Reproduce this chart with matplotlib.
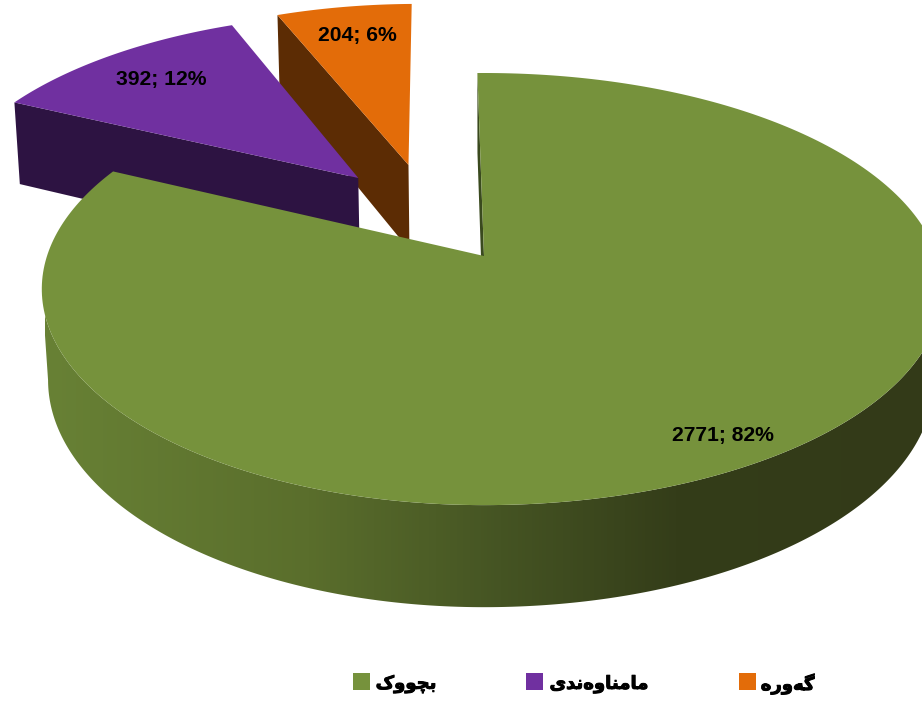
import matplotlib
matplotlib.use("Agg")
import matplotlib.pyplot as plt
import matplotlib.patheffects as pe
import numpy as np
from matplotlib.colors import LinearSegmentedColormap
from matplotlib.patches import Polygon, Rectangle

# Data
categories = ["بچووک", "مامناوەندی", "گەورە"]
values = [2771, 392, 204]
percents = [82, 12, 6]

# Colors
top_colors = ["#76923c", "#7030a0", "#e36c09"]
wall_colors = ["#3a4a1e", "#2d1342", "#5c2c04"]
side_stops = [
    (0.0, "#688135"),
    (0.3, "#5a6e2c"),
    (0.52, "#455423"),
    (0.72, "#343d19"),
    (1.0, "#333a18"),
]

# Explode offsets in the pie plane (sideways, backwards)
explode = [(0.0, 0.0), (-0.305, 0.392), (-0.185, 0.462)]
start_angle = -1.0

# Perspective of the top and bottom faces:
# (x scale left, x scale right, apex y, y scale, k)
top_face = (437, 453, 256, 211, 0.153)
bottom_face = (431, 445, 346, 222, 0.15)
center_x = 484

label_pos = [(722.5, 436), (161, 79.5), (357, 35)]
legend_box_x = [353, 526, 739]
legend_text_x = [406, 599, 787.5]

# Joining forms: isolated, final, initial, medial
forms = {
    "ب": "\ufe8f\ufe90\ufe91\ufe92",
    "چ": "\ufb7a\ufb7b\ufb7c\ufb7d",
    "و": "\ufeed\ufeee",
    "ک": "\ufb8e\ufb8f\ufb90\ufb91",
    "م": "\ufee1\ufee2\ufee3\ufee4",
    "ا": "\ufe8d\ufe8e",
    "ن": "\ufee5\ufee6\ufee7\ufee8",
    "ە": "\ufee9\ufeea",
    "د": "\ufea9\ufeaa",
    "ی": "\ufbfc\ufbfd\ufbfe\ufbff",
    "ر": "\ufead\ufeae",
    "گ": "\ufb92\ufb93\ufb94\ufb95",
}


def shape(word):
    # matplotlib has no Arabic shaping, so pick the forms and reverse them
    out = []
    for i, ch in enumerate(word):
        prev_joins = i > 0 and len(forms[word[i - 1]]) == 4
        next_joins = i < len(word) - 1 and len(forms[ch]) == 4
        if prev_joins and next_joins:
            out.append(forms[ch][3])
        elif next_joins:
            out.append(forms[ch][2])
        elif prev_joins:
            out.append(forms[ch][1])
        else:
            out.append(forms[ch][0])
    return "".join(reversed(out))


def project(u, v, face):
    a_left, a_right, y0, b, k = face
    d = 1 + k * v
    return center_x + np.where(u < 0, a_left, a_right) * u / d, y0 - b * v / d


def outline(phi, offset, face):
    u = offset[0] + np.sin(phi)
    v = offset[1] + np.cos(phi)
    return np.column_stack(project(u, v, face))


def front_arc(pts):
    # part of an outline between its rightmost and leftmost points
    return pts[np.argmax(pts[:, 0]):np.argmin(pts[:, 0]) + 1]


fig = plt.figure(figsize=(9.22, 7.03), dpi=100)
ax = fig.add_axes([0, 0, 1, 1])

# Slice angles, clockwise from the top
fractions = np.array(values) / sum(values)
edges = np.radians(start_angle + 360 * np.concatenate([[0], np.cumsum(fractions)]))


def top_polygon(i):
    phi = np.linspace(edges[i], edges[i + 1], 300)
    apex = np.array(project(explode[i][0], explode[i][1], top_face), dtype=float)
    return np.vstack([apex, outline(phi, explode[i], top_face)])


def cut_wall(i, angle):
    off = explode[i]
    phi = np.array([angle])
    return np.vstack([
        np.array(project(off[0], off[1], top_face), dtype=float),
        outline(phi, off, top_face),
        outline(phi, off, bottom_face),
        np.array(project(off[0], off[1], bottom_face), dtype=float),
    ])


# Exploded slices, back to front
ax.add_patch(Polygon(cut_wall(2, edges[2]), color=wall_colors[2], lw=0, zorder=2))
ax.add_patch(Polygon(top_polygon(2), color=top_colors[2], lw=0, zorder=2.5))
ax.add_patch(Polygon(cut_wall(1, edges[1]), color=wall_colors[1], lw=0, zorder=3))
ax.add_patch(Polygon(top_polygon(1), color=top_colors[1], lw=0, zorder=3.5))

# Green rim with a horizontal gradient
phi = np.linspace(edges[0], edges[1], 900)
rim = np.vstack([
    front_arc(outline(phi, explode[0], top_face)),
    front_arc(outline(phi, explode[0], bottom_face))[::-1],
])
rim_patch = Polygon(rim, facecolor="none", edgecolor="none", lw=0)
ax.add_patch(rim_patch)
cmap = LinearSegmentedColormap.from_list("rim", side_stops)
img = ax.imshow(np.linspace(0, 1, 256)[None, :], cmap=cmap, extent=(45, 922, 703, 0),
                aspect="auto", zorder=5)
img.set_clip_path(rim_patch)

# Green cut face and top
ax.add_patch(Polygon(cut_wall(0, edges[0]), color=wall_colors[0], lw=0, zorder=5.5))
ax.add_patch(Polygon(top_polygon(0), color=top_colors[0], lw=0, zorder=6))

# Data labels
for (x, y), val, pct in zip(label_pos, values, percents):
    ax.text(x, y, f"{val}; {pct}%", ha="center", va="center", fontsize=15.2,
            fontweight="bold", family="Liberation Sans", color="black", zorder=8)

# Legend
for name, color, bx, tx in zip(categories, top_colors, legend_box_x, legend_text_x):
    ax.add_patch(Rectangle((bx, 673), 17, 17, color=color, lw=0))
    ax.text(tx, 684, shape(name), ha="center", va="center", fontsize=13,
            fontweight="bold", family="DejaVu Sans", color="black",
            path_effects=[pe.withStroke(linewidth=0.7, foreground="black")])

ax.set_xlim(0, 922)
ax.set_ylim(703, 0)
ax.axis("off")

fig.savefig("out.png", dpi=100)
